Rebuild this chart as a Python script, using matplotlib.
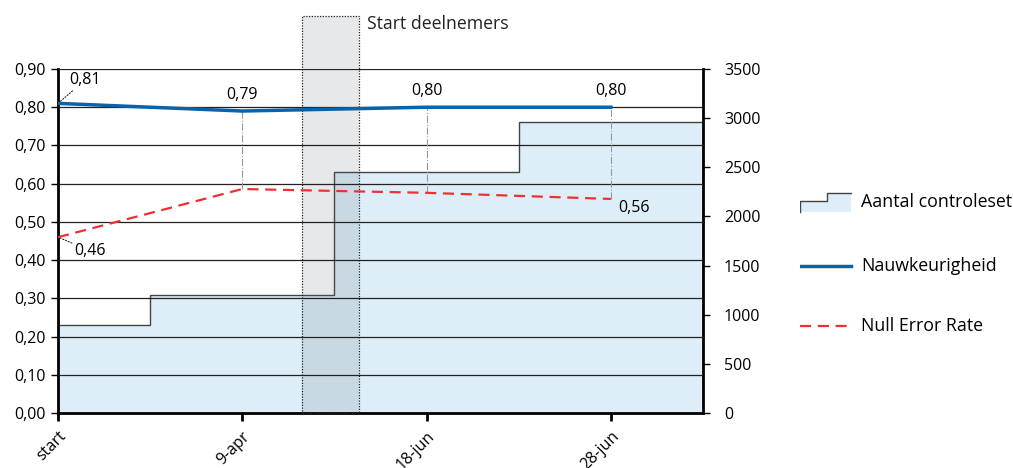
import matplotlib
matplotlib.use("Agg")
import matplotlib.pyplot as plt
from matplotlib.patches import Rectangle
from matplotlib.ticker import FuncFormatter, MultipleLocator
import matplotlib.transforms as mtransforms

# Measurement moments
moments = ["start", "9-apr", "18-jun", "28-jun"]
accuracy = [0.81, 0.79, 0.80, 0.80]          # Nauwkeurigheid
null_error = [0.46, 0.586, 0.576, 0.56]      # Null Error Rate
control_set = [900, 1200, 2450, 2960]        # Aantal controleset

# period in which participants started (in x positions)
start_period = (1.325, 1.635)

plt.rcParams["font.family"] = ["Open Sans", "DejaVu Sans"]

BLUE = "#0a62a9"
RED = "#ee3130"
FILL = "#ddeef8"

fig = plt.figure(figsize=(10.13, 4.68), dpi=100)
ax = fig.add_axes([0.0573, 0.1175, 0.6367, 0.7351])
ax2 = ax.twinx()
ax2.set_zorder(ax.get_zorder() - 1)
ax.patch.set_visible(False)

x = list(range(len(moments)))
edges = [i - 0.5 for i in x] + [x[-1] + 0.5]

# stepped control set size on the right axis
ax2.stairs(control_set, edges, fill=True, color=FILL, zorder=1)
ax2.stairs(control_set, edges, color="#444444", lw=1.0, zorder=2)
ax2.set_ylim(0, 3500)
ax2.yaxis.set_major_locator(MultipleLocator(500))

# start period band, reaching above the plot
trans = mtransforms.blended_transform_factory(ax.transData, ax.transAxes)
band = Rectangle((start_period[0], 0), start_period[1] - start_period[0], 1.154,
                 transform=trans, facecolor="#5a6570", alpha=0.15,
                 edgecolor="none", clip_on=False, zorder=1)
ax.add_patch(band)
outline = Rectangle((start_period[0], 0), start_period[1] - start_period[0], 1.154,
                    transform=trans, facecolor="none", edgecolor="#222222",
                    lw=0.9, ls=(0, (1, 1.2)), clip_on=False, zorder=4)
ax.add_patch(outline)
ax.text(start_period[1] + 0.04, 1.158, "Start deelnemers", transform=trans,
        ha="left", va="top", fontsize=12.7, color="#222222")

# connectors between the two lines
for xi, a, n in zip(x[1:], accuracy[1:], null_error[1:]):
    ax.plot([xi, xi], [n, a], color="#999999", lw=0.8, ls="-.", zorder=3)

ax.plot(x, null_error, color=RED, lw=1.6, ls=(0, (5, 3)), zorder=5)
ax.plot(x, accuracy, color=BLUE, lw=2.5, zorder=6)

# value labels
fmt = lambda v: f"{v:.2f}".replace(".", ",")
ax.annotate(fmt(accuracy[0]), xy=(x[0], accuracy[0]), xytext=(8, 11),
            textcoords="offset points", fontsize=11.5, ha="left", va="bottom",
            arrowprops=dict(arrowstyle="-", ls=":", lw=0.8, color="#222222",
                            shrinkA=0, shrinkB=0))
ax.annotate(fmt(null_error[0]), xy=(x[0], null_error[0]), xytext=(12, -4),
            textcoords="offset points", fontsize=11.5, ha="left", va="top",
            arrowprops=dict(arrowstyle="-", ls=":", lw=0.8, color="#222222",
                            shrinkA=0, shrinkB=0))
for xi, a in zip(x[1:], accuracy[1:]):
    ax.annotate(fmt(a), xy=(xi, a), xytext=(0, 6), textcoords="offset points",
                fontsize=11.5, ha="center", va="bottom")
ax.annotate(fmt(null_error[-1]), xy=(x[-1], null_error[-1]), xytext=(5, -1),
            textcoords="offset points", fontsize=11.5, ha="left", va="top")

ax.set_xlim(x[0], x[-1] + 0.5)
ax.set_ylim(0, 0.9)
ax.yaxis.set_major_locator(MultipleLocator(0.1))
ax.yaxis.set_major_formatter(FuncFormatter(lambda v, p: fmt(v)))
ax.set_xticks(x)
ax.set_xticklabels(moments, rotation=45, ha="right", rotation_mode="anchor",
                   fontsize=11.5)
ax.grid(axis="y", color="#222222", lw=0.9, zorder=2)
ax.set_axisbelow(False)

for a in (ax, ax2):
    a.spines["top"].set_visible(False)
    a.tick_params(labelsize=11.5, length=5, width=1, direction="out", pad=4)
ax.spines["left"].set_linewidth(2)
ax.spines["bottom"].set_linewidth(2)
ax.spines["right"].set_visible(False)
ax2.spines["left"].set_visible(False)
ax2.spines["bottom"].set_visible(False)
ax2.spines["right"].set_linewidth(2)
ax2.tick_params(axis="y", pad=10)
ax.tick_params(axis="x", length=6, width=2, pad=5)

# legend drawn by hand on the right
lg = fig.add_axes([0.79, 0.169, 0.21, 0.42])
lg.set_xlim(0, 210)
lg.set_ylim(0, 200)
lg.axis("off")
step_x = [0, 0, 26, 26, 50]
step_y = [180, 191, 191, 199, 199]
lg.fill_between([0, 26, 26, 50], [191, 191, 199, 199], 180, color=FILL, lw=0)
lg.fill_between([0, 50], [180, 180], [191, 191], color=FILL, lw=0)
lg.plot(step_x, step_y, color="#444444", lw=1.0)
lg.text(60, 190, "Aantal controleset", fontsize=12.8, va="center")
lg.plot([0, 50], [125, 125], color=BLUE, lw=2.5)
lg.text(60, 125, "Nauwkeurigheid", fontsize=12.8, va="center")
lg.plot([0, 50], [64, 64], color=RED, lw=1.6, ls=(0, (5, 3)))
lg.text(60, 64, "Null Error Rate", fontsize=12.8, va="center")

fig.savefig("out.png", dpi=100)
